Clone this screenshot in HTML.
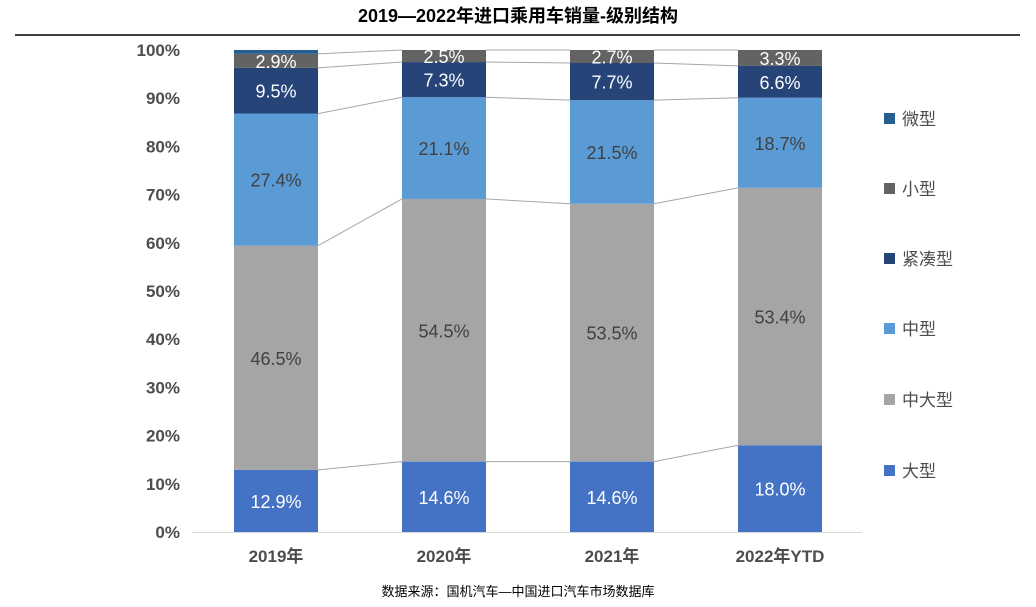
<!DOCTYPE html>
<html><head><meta charset="utf-8"><style>
body{margin:0;background:#fff;}
svg text{font-family:"Liberation Sans","Noto Sans CJK SC",sans-serif;}
</style></head><body>
<svg width="1036" height="602" id="c">
<text x="518" y="22" text-anchor="middle" font-size="18" font-weight="bold" fill="#000">2019—2022年进口乘用车销量-级别结构</text>
<line x1="15" y1="35" x2="1020" y2="35" stroke="#000" stroke-width="1.5"/>
<text x="518" y="596" text-anchor="middle" font-size="13" fill="#000">数据来源：国机汽车—中国进口汽车市场数据库</text>
</svg>
<script>
const categories=["2019年","2020年","2021年","2022年YTD"];
const seriesNames=["大型","中大型","中型","紧凑型","小型","微型"];
const daxing=[12.9,14.6,14.6,18.0];
const zhongda=[46.5,54.5,53.5,53.4];
const zhong=[27.4,21.1,21.5,18.7];
const jincou=[9.5,7.3,7.7,6.6];
const xiao=[2.9,2.5,2.7,3.3];
const wei=[0.8,0,0,0];
const yTicks=[0,10,20,30,40,50,60,70,80,90,100];
const series=[daxing,zhongda,zhong,jincou,xiao,wei];
const colors=["#4472C4","#A5A5A5","#5B9BD5","#264478","#636363","#255E91"];
const labelColors=["#fff","#404040","#404040","#fff","#fff","#fff"];
const NS="http://www.w3.org/2000/svg";
const svg=document.getElementById('c');
const y=v=>532-v*4.82;
const x=i=>234+i*168;
const bw=84;
function mk(t,a){const e=document.createElementNS(NS,t);for(const k in a)e.setAttribute(k,a[k]);svg.appendChild(e);return e;}
yTicks.forEach(t=>{const e=mk('text',{x:180,y:y(t)+6,'text-anchor':'end','font-size':17,'font-weight':'bold',fill:'#4d4d4d'});e.textContent=t+'%';

});
for(let i=0;i<categories.length-1;i++){let c1=0,c2=0;for(let s=0;s<series.length-1;s++){c1+=series[s][i];c2+=series[s][i+1];
const l=mk('line',{x1:x(i)+bw,y1:y(c1),x2:x(i+1),y2:y(c2),stroke:'#A6A6A6','stroke-width':1});

}}
categories.forEach((c,i)=>{let cum=0;series.forEach((sv,s)=>{const v=sv[i];if(v>0){const r=mk('rect',{x:x(i),y:y(cum+v),width:bw,height:v*4.82,fill:colors[s]});


if(s<5){const t=mk('text',{x:x(i)+bw/2,y:y(cum+v/2)+7,'text-anchor':'middle','font-size':18,fill:labelColors[s]});t.textContent=v.toFixed(1)+'%';

}}cum+=v;});
const t=mk('text',{x:x(i)+bw/2,y:562,'text-anchor':'middle','font-size':17,'font-weight':'bold',fill:'#4d4d4d'});t.textContent=c;

});
const ax=mk('line',{x1:192,y1:532.5,x2:862,y2:532.5,stroke:'#D9D9D9','stroke-width':1});


const ly=[471,400,329,259,189,119];
seriesNames.forEach((n,s)=>{const r=mk('rect',{x:884,y:ly[s]-6,width:11,height:11,fill:colors[s]});


const t=mk('text',{x:902,y:ly[s]+6,'font-size':17,fill:'#4d4d4d'});t.textContent=n;

});
</script>
</body></html>
